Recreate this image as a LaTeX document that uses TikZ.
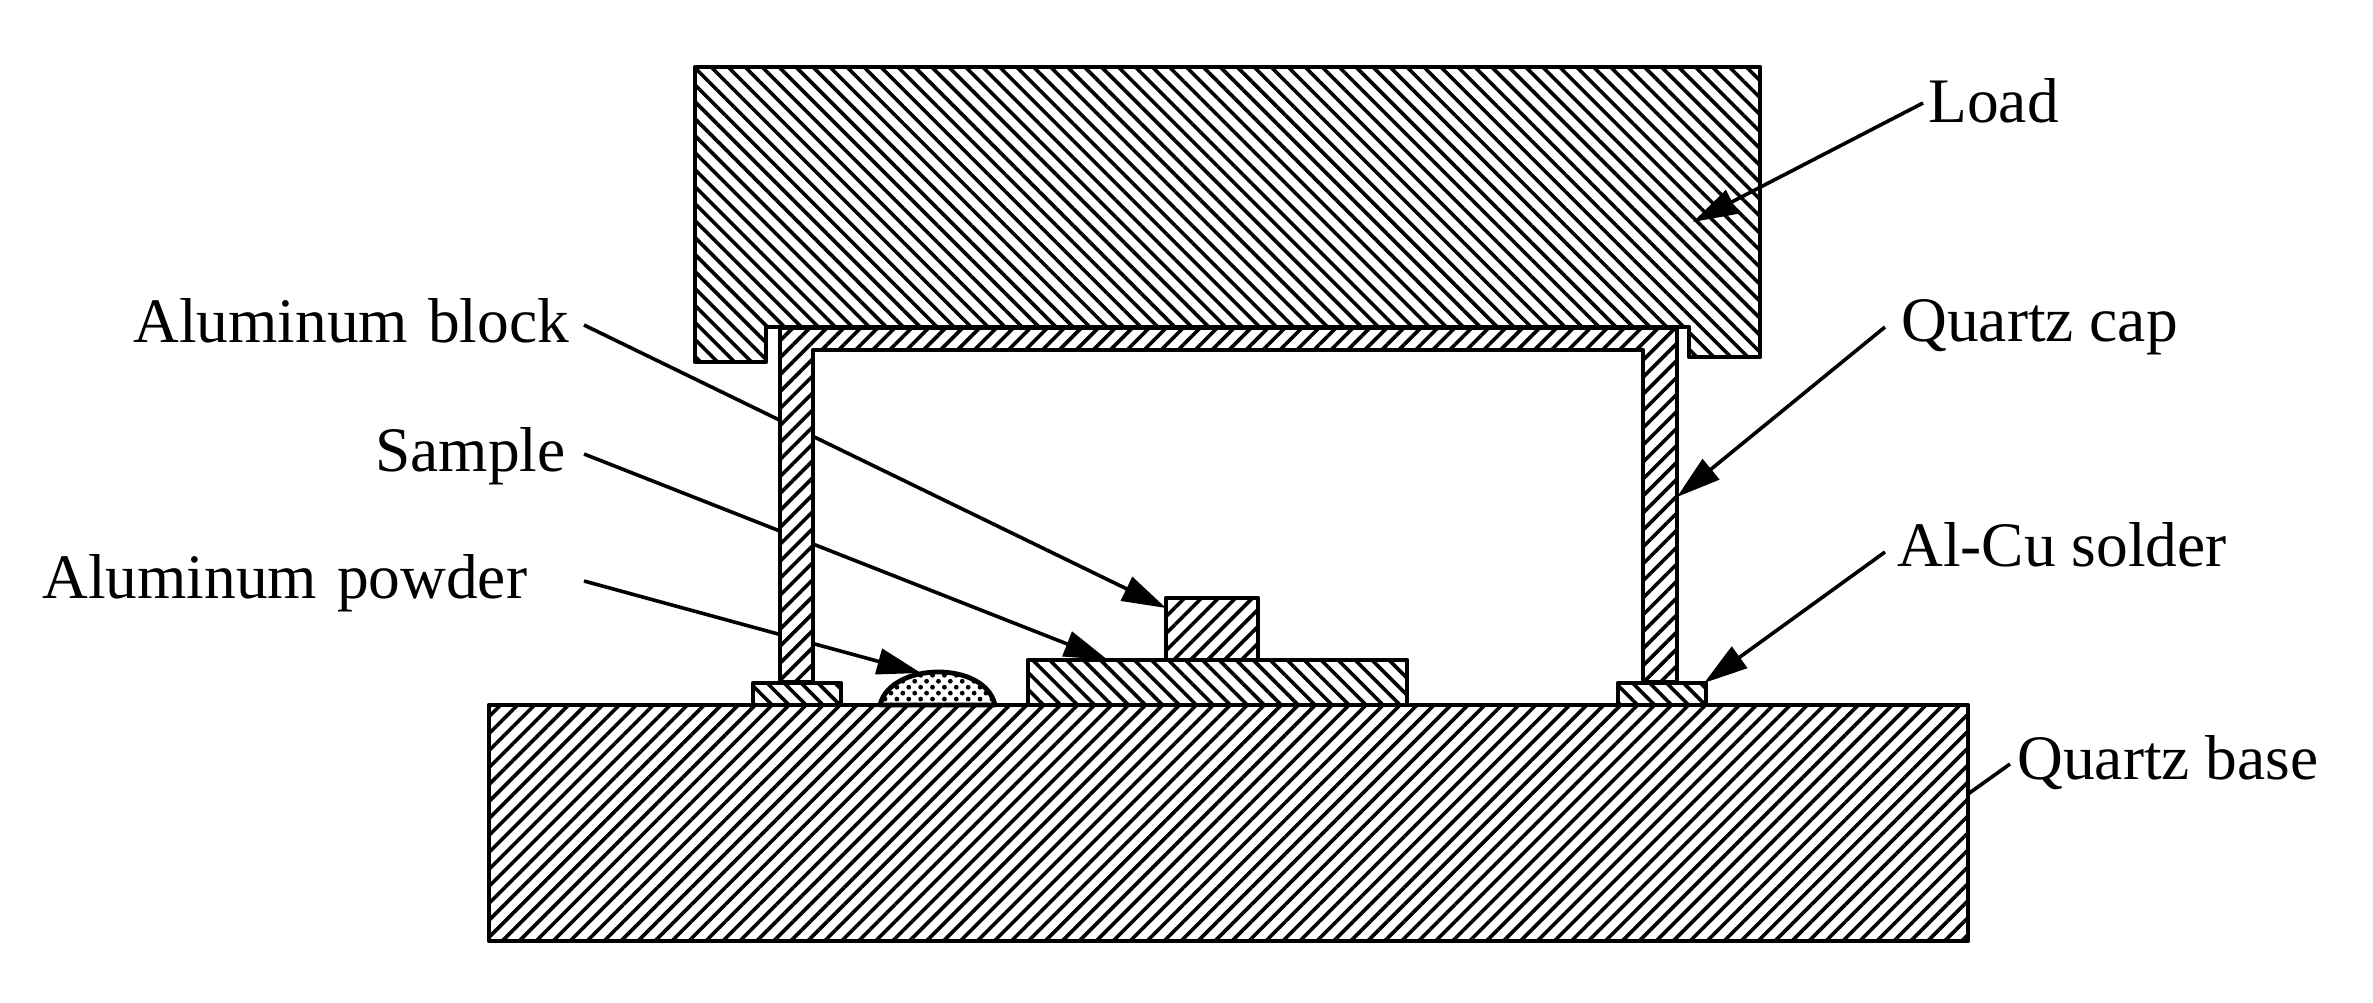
\documentclass[tikz,border=0pt]{standalone}
\usepackage{fontspec}
\setmainfont{Liberation Serif}
\usetikzlibrary{arrows.meta,patterns.meta}
\tikzset{
	wall/.style={draw, line width=2.4pt, preaction={fill=white}},
	hatchup/.style={wall, pattern={Lines[angle=45,distance=6pt,line width=1.8pt]}},
	hatchdown/.style={wall, pattern={Lines[angle=-45,distance=6pt,line width=1.8pt]}},
	powder/.style={wall, pattern={Dots[angle=45,distance=4.2pt,radius=1.2pt]}},
	lead/.style={line width=1.8pt},
	tag/.style={inner sep=0pt, anchor=base west, font=\fontsize{31.7}{36}\selectfont}
}
\begin{document}
\begin{tikzpicture}[x=0.5pt, y=-0.5pt, line join=round, >={Triangle[length=22pt,width=13pt]}]
	\useasboundingbox (0,0) rectangle (2373,1002);
	\path
	(1923,103) coordinate (LoadS)
	(1693,222) coordinate (LoadT)
	(1885,327) coordinate (CapS)
	(1677,497) coordinate (CapT)
	(1885,552) coordinate (SolderS)
	(1704,683) coordinate (SolderT)
	(2010,764) coordinate (BaseS)
	(1968,794) coordinate (BaseT)
	(584,325) coordinate (BlockS)
	(1166,608) coordinate (BlockT)
	(584,454) coordinate (SampleS)
	(1108,660) coordinate (SampleT)
	(584,581) coordinate (PowderS)
	(921,673) coordinate (PowderT)
	;
	% load
	\draw[hatchdown] (695,67)--(1760,67)--(1760,357)--(1689,357)--(1689,327)--(766,327)--(766,362)--(695,362)--cycle;
	% leaders
	\foreach \a/\b in {LoadS/LoadT,CapS/CapT,SolderS/SolderT,BlockS/BlockT,SampleS/SampleT,PowderS/PowderT}{
		\draw[lead,->] (\a)--(\b);
	}
	\draw[lead] (BaseS)--(BaseT);
	% cap and base
	\draw[hatchup] (780,328)--(1677,328)--(1677,682)--(1643,682)--(1643,350)--(813,350)--(813,682)--(780,682)--cycle;
	\draw[hatchup] (489,705) rectangle (1968,941);
	\draw[hatchdown] (753,683) rectangle (841,705);
	\draw[hatchdown] (1618,683) rectangle (1706,705);
	\draw[hatchdown] (1028,660) rectangle (1407,705);
	\draw[hatchup] (1166,598) rectangle (1258,660);
	\draw[powder] (880,705) .. controls (890,662) and (985,660) .. (995,705) -- cycle;
	% labels
	\foreach \x/\y/\ten/\nhan in {1928/122/load/Load,1901/341/cap/Quartz cap,1897/566/solder/Al-Cu solder,2017/779/base/Quartz base,133/342/block/Aluminum\hspace{2pt} block,375/471/sample/Sample,42/598/powder/Aluminum\hspace{2pt} powder}{
		\node[tag] (\ten) at (\x,\y) {\nhan};
	}
\end{tikzpicture}
\end{document}
